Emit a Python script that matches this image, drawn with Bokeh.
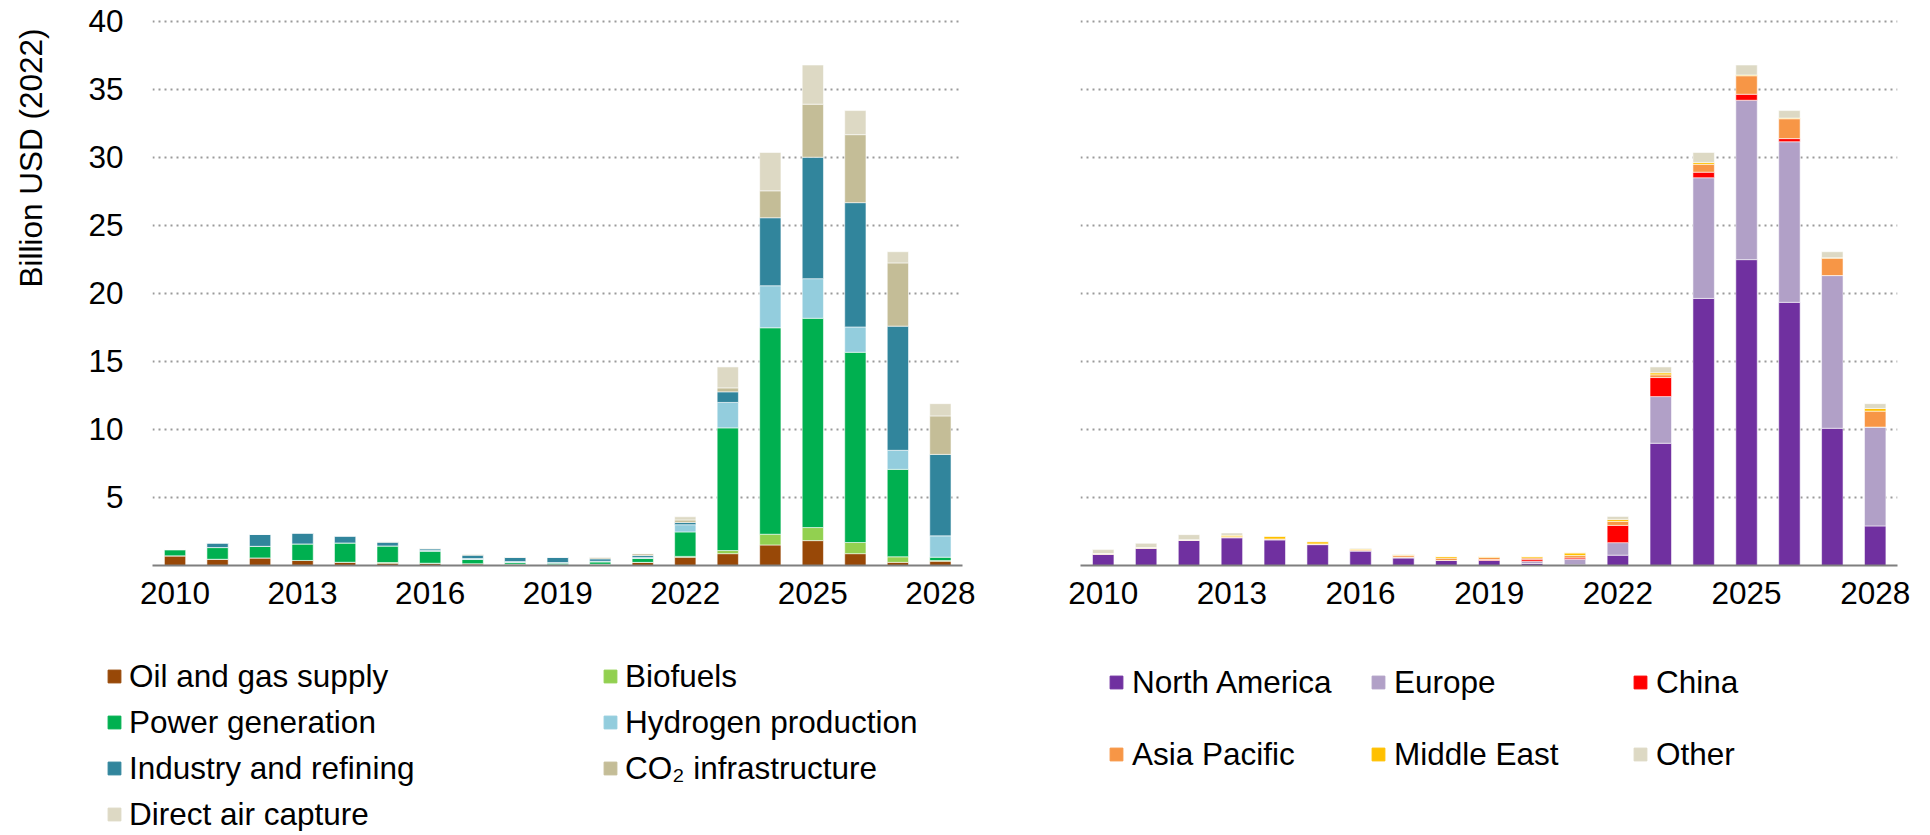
from bokeh.plotting import figure
from bokeh.models import ColumnDataSource, Range1d, FixedTicker, Legend, LegendItem, Title
from bokeh.layouts import row, column
from bokeh.embed import file_html
from bokeh.resources import INLINE

# ---------------- data ----------------
years = list(range(2010, 2029))
tick_years = [2010, 2013, 2016, 2019, 2022, 2025, 2028]
y_ticks = [5, 10, 15, 20, 25, 30, 35, 40]

# Left chart: by sector (Billion USD 2022)
sector_names = ["Oil and gas supply", "Biofuels", "Power generation", "Hydrogen production",
                "Industry and refining", "CO\u2082 infrastructure", "Direct air capture"]
oil_gas = [0.71, 0.46, 0.56, 0.37, 0.24, 0.17, 0.15, 0.12, 0.10, 0.06, 0.09, 0.23, 0.61, 0.87, 1.51, 1.83, 0.87, 0.23, 0.32]
biofuels = [0, 0, 0, 0, 0, 0.05, 0.02, 0.01, 0, 0, 0, 0, 0.06, 0.23, 0.79, 0.96, 0.82, 0.41, 0.04]
power = [0.46, 0.86, 0.85, 1.22, 1.42, 1.22, 0.88, 0.31, 0.12, 0.11, 0.17, 0.29, 1.80, 9.02, 15.18, 15.39, 13.99, 6.43, 0.25]
hydrogen = [0, 0, 0, 0, 0, 0, 0.05, 0.07, 0.07, 0.05, 0.05, 0.06, 0.53, 1.87, 3.09, 2.91, 1.86, 1.40, 1.57]
industry = [0, 0.34, 0.88, 0.80, 0.51, 0.27, 0.12, 0.25, 0.30, 0.39, 0.18, 0.15, 0.17, 0.78, 5.00, 8.93, 9.14, 9.13, 5.99]
co2_infra = [0, 0, 0, 0, 0, 0.05, 0.05, 0.07, 0.04, 0, 0.12, 0.14, 0.18, 0.29, 1.98, 3.90, 5.00, 4.65, 2.83]
dac = [0, 0, 0, 0, 0, 0, 0, 0, 0, 0, 0, 0, 0.23, 1.54, 2.82, 2.88, 1.77, 0.82, 0.90]
sector_colors = ["#984807", "#92D050", "#00B050", "#93CDDD", "#31859C", "#C4BD97", "#DDD9C4"]

# Right chart: by region (Billion USD 2022)
region_names = ["North America", "Europe", "China", "Asia Pacific", "Middle East", "Other"]
north_america = [0.83, 1.27, 1.85, 2.05, 1.90, 1.54, 1.08, 0.55, 0.37, 0.37, 0.15, 0.05, 0.76, 8.99, 19.64, 22.49, 19.35, 10.09, 2.91]
europe = [0, 0, 0, 0, 0, 0, 0, 0.06, 0, 0, 0.17, 0.41, 0.92, 3.43, 8.87, 11.72, 11.81, 11.23, 7.27]
china = [0, 0, 0, 0, 0, 0, 0, 0, 0, 0.07, 0.14, 0.10, 1.27, 1.40, 0.41, 0.44, 0.23, 0, 0]
asia_pacific = [0.05, 0.05, 0.05, 0.07, 0.05, 0.05, 0.08, 0.12, 0.17, 0.15, 0.10, 0.17, 0.29, 0.20, 0.58, 1.36, 1.46, 1.28, 1.17]
middle_east = [0, 0, 0, 0.10, 0.20, 0.16, 0.06, 0.06, 0.12, 0.07, 0.10, 0.20, 0.15, 0.15, 0.14, 0.06, 0.05, 0.03, 0.20]
other = [0.29, 0.31, 0.37, 0.17, 0.02, 0.03, 0.05, 0.04, 0, 0, 0, 0, 0.22, 0.43, 0.73, 0.73, 0.55, 0.44, 0.35]
region_colors = ["#7030A0", "#B1A0C7", "#FF0000", "#F79646", "#FFC000", "#DDD9C4"]

FONT = "Liberation Sans"
FS = "31.5px"
CHART_H = 625
LEG_H = 206
Y_END = 40.294


def base_fig(width, border_left, border_right):
    p = figure(width=width, height=CHART_H, output_backend="svg", toolbar_location=None,
               x_range=Range1d(2009.47, 2028.52), y_range=Range1d(0, Y_END),
               min_border_left=border_left, min_border_right=border_right,
               min_border_top=17, min_border_bottom=60)
    p.outline_line_color = None
    p.background_fill_color = "white"
    p.border_fill_color = "white"
    p.xgrid.grid_line_color = None
    p.ygrid.ticker = FixedTicker(ticks=y_ticks)
    p.ygrid.grid_line_color = "#9a9a9a"
    p.ygrid.grid_line_width = 2
    p.ygrid.grid_line_dash = "2 4"
    p.xaxis.ticker = FixedTicker(ticks=tick_years)
    p.xaxis.axis_line_color = "#7f7f7f"
    p.xaxis.axis_line_width = 2
    p.xaxis.major_tick_line_color = None
    p.xaxis.minor_tick_line_color = None
    p.xaxis.major_tick_out = 0
    p.xaxis.major_label_standoff = 16
    p.xaxis.major_label_text_font = FONT
    p.xaxis.major_label_text_font_size = FS
    p.xaxis.major_label_text_color = "black"
    p.yaxis.ticker = FixedTicker(ticks=y_ticks)
    p.yaxis.axis_line_color = None
    p.yaxis.major_tick_line_color = None
    p.yaxis.minor_tick_line_color = None
    p.yaxis.major_tick_out = 0
    p.yaxis.major_tick_in = 0
    p.yaxis.major_label_standoff = 29
    p.yaxis.major_label_text_font = FONT
    p.yaxis.major_label_text_font_size = FS
    p.yaxis.major_label_text_color = "black"
    return p


def legend_fig(width, keys, colors, names, src, loc, ncols, standoff, lwidth, lheight):
    f = figure(width=width, height=LEG_H, output_backend="svg", toolbar_location=None,
               x_range=Range1d(0, 1), y_range=Range1d(0, 1),
               min_border_left=0, min_border_right=0, min_border_top=0, min_border_bottom=0)
    f.outline_line_color = None
    f.axis.visible = False
    f.grid.visible = False
    # same data, outside this figure's view: only the legend swatches show
    rs = f.vbar_stack(keys, x="year", width=0.5, source=src, color=colors)
    leg = Legend(items=[LegendItem(label=n, renderers=[r]) for n, r in zip(names, rs)],
                 location=loc, orientation="horizontal", ncols=ncols,
                 glyph_width=16, glyph_height=16, label_standoff=standoff,
                 label_width=lwidth, label_height=lheight, spacing=0, padding=0, margin=0,
                 border_line_color=None, background_fill_alpha=0,
                 label_text_font=FONT, label_text_font_size=FS, label_text_color="black")
    f.add_layout(leg)
    return f


# ---------------- left chart ----------------
left_src = ColumnDataSource(dict(year=years, s0=oil_gas, s1=biofuels, s2=power, s3=hydrogen,
                                 s4=industry, s5=co2_infra, s6=dac))
p1 = base_fig(1000, 152, 38)
# invisible spacer label pushes the axis title further left
p1.yaxis.axis_label = " "
p1.yaxis.axis_label_text_font_size = "1px"
p1.yaxis.axis_label_standoff = 28
keys1 = ["s0", "s1", "s2", "s3", "s4", "s5", "s6"]
p1.vbar_stack(keys1, x="year", width=0.5, source=left_src, color=sector_colors,
              line_color="white", line_width=0.8, line_alpha=0.7)
ytitle = Title(text="Billion USD (2022)", align="right", offset=11,
               text_font=FONT, text_font_size=FS, text_font_style="normal", text_color="black")
p1.add_layout(ytitle, "left")

# ---------------- right chart ----------------
right_src = ColumnDataSource(dict(year=years, s0=north_america, s1=europe, s2=china,
                                  s3=asia_pacific, s4=middle_east, s5=other))
p2 = base_fig(922, 80, 25)
p2.yaxis.major_label_text_color = None
p2.yaxis.major_label_standoff = 0
keys2 = ["s0", "s1", "s2", "s3", "s4", "s5"]
p2.vbar_stack(keys2, x="year", width=0.5, source=right_src, color=region_colors,
              line_color="white", line_width=0.8, line_alpha=0.7)

# ---------------- legends ----------------
l1 = legend_fig(1000, keys1, sector_colors, sector_names, left_src, (106, -6), 2, 7, 473, 46)
l2 = legend_fig(922, keys2, region_colors, region_names, right_src, (108, 41), 3, 8, 238, 72)

layout = column(row(p1, p2), row(l1, l2))
open("out.html", "w").write(file_html(layout, INLINE))
